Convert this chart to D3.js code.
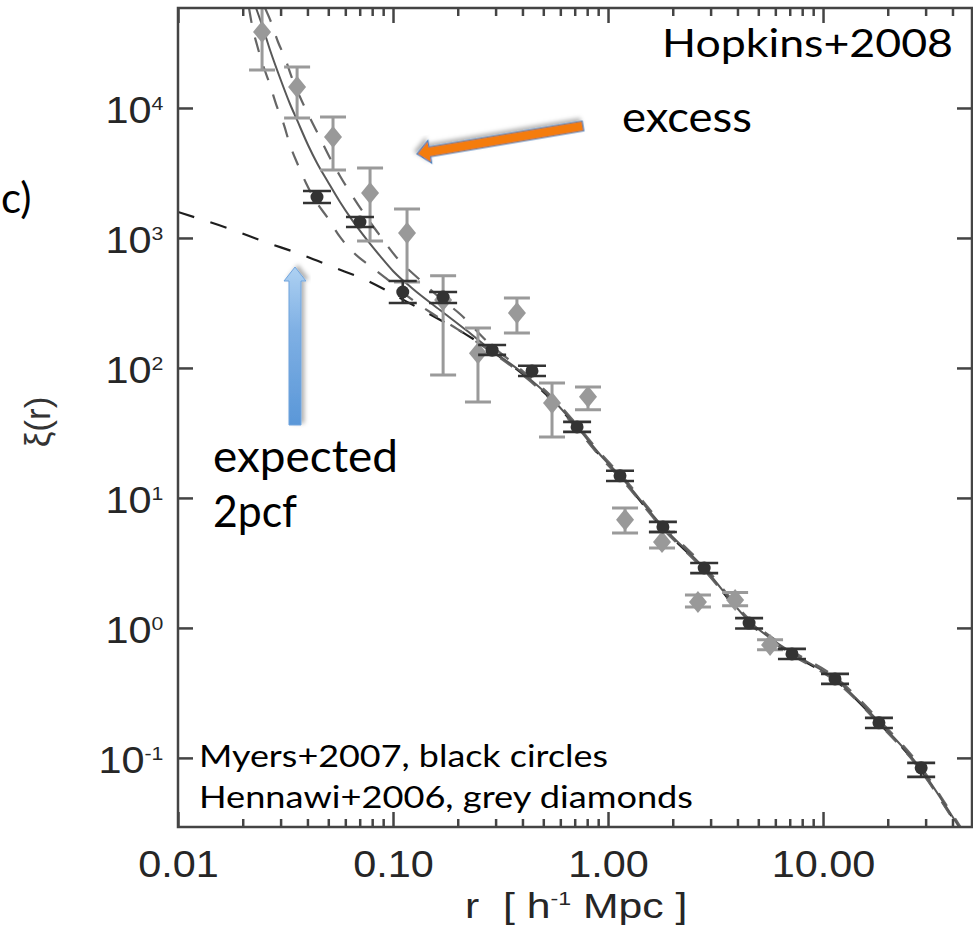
<!DOCTYPE html>
<html>
<head>
<meta charset="utf-8">
<script src="https://cdn.jsdelivr.net/npm/d3@7"></script>
<style>
  body { margin: 0; background: #fff; }
  svg { display: block; }
</style>
</head>
<body>
<div id="chart"></div>
<script>
// Values (r in h^-1 Mpc, xi dimensionless)

// Myers+2007, black circles
const blackR  = [0.0443, 0.0702, 0.111, 0.171, 0.289, 0.443, 0.718, 1.137, 1.80, 2.80, 4.53, 7.17, 11.37, 18.2, 28.6];
const blackXi = [2065, 1327, 384, 351, 137, 94.9, 35.2, 14.8, 5.98, 2.89, 1.09, 0.631, 0.405, 0.186, 0.0838];
const blackLo = [1858, 1215, 316, 316, 126, 86.8, 32.2, 13.5, 5.47, 2.64, 0.99, 0.577, 0.371, 0.170, 0.0714];
const blackHi = [2299, 1450, 467, 384, 150, 104, 38.5, 16.2, 6.54, 3.16, 1.19, 0.690, 0.443, 0.203, 0.0915];

// Hennawi+2006, grey diamonds
const greyR  = [0.0246, 0.0358, 0.0526, 0.0782, 0.1162, 0.171, 0.2484, 0.377, 0.549, 0.807, 1.20, 1.783, 2.62, 3.90, 5.67];
const greyXi = [38450, 14510, 5984, 2218, 1093, 333, 130, 265, 53.8, 59.9, 6.78, 4.59, 1.585, 1.64, 0.74];
const greyLo = [19580, 8380, 3333, 949, 459, 88.3, 54.7, 186, 29.4, 47.6, 5.38, 4.12, 1.45, 1.48, 0.68];
const greyHi = [79400, 20650, 8530, 3455, 1671, 511, 203, 345, 76.7, 71.5, 8.38, 5.48, 1.79, 1.87, 0.81];

// model curve (solid)
const modelR  = [0.02306, 0.02459, 0.02679, 0.02982, 0.03319, 0.03577, 0.04024, 0.04430, 0.04985, 0.05668, 0.06446, 0.07569, 0.08700, 0.1, 0.1239, 0.1654, 0.2209, 0.2736, 0.3898, 0.5548, 0.7174, 0.9478, 1.137, 1.802, 2.796, 4.527, 7.174, 11.37, 18.22, 28.27, 38.97, 42.92];
const modelXi = [58770, 43500, 27930, 17010, 10730, 8086, 5193, 3775, 2697, 1892, 1376, 965, 727, 557, 405, 279, 193, 145, 94.8, 56.7, 35.2, 20.3, 14.8, 5.98, 2.89, 1.13, 0.642, 0.405, 0.189, 0.0838, 0.0378, 0.0294];

// upper and lower dashed envelopes (grey)
const upperR  = [0.02539, 0.02708, 0.02919, 0.03146, 0.03390, 0.03694, 0.03981, 0.04337, 0.04674, 0.05093, 0.05668, 0.06516, 0.07409, 0.08515, 0.1044, 0.1336, 0.1654, 0.2049, 0.2736, 0.3898, 0.5548, 0.7174, 0.9478, 1.137, 1.802, 2.796, 4.527, 7.174, 11.37, 18.22, 28.27, 38.97, 43.6];
const upperXi = [58770, 45860, 32190, 24240, 17010, 12150, 9316, 7019, 5476, 4125, 3000, 2068, 1503, 1093, 702, 475, 345, 260, 160, 98.5, 58.8, 36.5, 21.0, 15.3, 6.20, 3.0, 1.17, 0.665, 0.42, 0.196, 0.0868, 0.0392, 0.0294];
const lowerR  = [0.02139, 0.02209, 0.02331, 0.02485, 0.02679, 0.02888, 0.03079, 0.03319, 0.03615, 0.03938, 0.04337, 0.04932, 0.05668, 0.06658, 0.07816, 0.09478, 0.1200, 0.1535, 0.1984, 0.2736, 0.3898, 0.5548, 0.7174, 0.9478, 1.137, 1.802, 2.796, 4.527, 7.174, 11.37, 18.22, 28.27, 38.97, 42.3];
const lowerXi = [58770, 43500, 30510, 21420, 15030, 10180, 7803, 5193, 3644, 2649, 1960, 1450, 1018, 753, 609, 475, 345, 260, 200, 140, 91.5, 54.7, 34.0, 19.6, 14.3, 5.77, 2.79, 1.09, 0.62, 0.391, 0.183, 0.0809, 0.0365, 0.0294];

// expected 2pcf (black dashed)
const expectedR  = [0.01, 0.01266, 0.01745, 0.02539, 0.03694, 0.05259, 0.07816, 0.1078, 0.1535, 0.2209, 0.2736, 0.3898, 0.5548, 0.7174, 0.9478, 1.137, 1.802, 2.796, 4.527, 7.174, 11.37, 18.22, 28.27, 38.97, 42.6];
const expectedXi = [1585, 1400, 1173, 931, 753, 598, 459, 345, 251, 179, 142.5, 93.2, 55.5, 34.5, 19.9, 14.5, 5.85, 2.83, 1.10, 0.63, 0.397, 0.185, 0.0820, 0.0370, 0.0294];

// axes
const xDomain = [0.01, 49.3];
const yDomain = [0.0294, 58770];
const xTicks = [0.01, 0.1, 1, 10];
const xTickLabels = ['0.01', '0.10', '1.00', '10.00'];
const yTicks = [0.1, 1, 10, 100, 1000, 10000];
const yTickExponents = ['-1', '0', '1', '2', '3', '4'];

// arrow annotations, [r, xi] of tail and tip
const excessArrow = {tail: [0.765, 7271], tip: [0.1293, 4429]};
const expectedArrow = {tail: [0.035, 36.4], tip: [0.035, 598]};

function drawChart() {
    const width = 973;
    const height = 929;
    const margin = {top: 8, right: 1, bottom: 102, left: 178};
    const cWidth = width - margin.left - margin.right;
    const cHeight = height - margin.top - margin.bottom;
    const stretch = 'scale(1.12,1)';

    const svg = d3.select('#chart').append('svg')
        .attr('width', width)
        .attr('height', height);

    const defs = svg.append('defs');
    defs.append('clipPath').attr('id', 'plotClip')
        .append('rect').attr('width', cWidth).attr('height', cHeight);

    const shadow = defs.append('filter').attr('id', 'shadow')
        .attr('x', '-20%').attr('y', '-20%').attr('width', '140%').attr('height', '140%');
    shadow.append('feDropShadow')
        .attr('dx', 2).attr('dy', 3).attr('stdDeviation', 2)
        .attr('flood-color', '#000').attr('flood-opacity', 0.3);

    const blueGrad = defs.append('linearGradient').attr('id', 'blueGrad')
        .attr('x1', 0).attr('y1', 0).attr('x2', 1).attr('y2', 0);
    blueGrad.append('stop').attr('offset', 0).attr('stop-color', '#5a97d8');
    blueGrad.append('stop').attr('offset', 0.6).attr('stop-color', '#7fb0e4');
    blueGrad.append('stop').attr('offset', 1).attr('stop-color', '#aed1f2');

    const g = svg.append('g').attr('transform', `translate(${margin.left},${margin.top})`);

    const x = d3.scaleLog().domain(xDomain).range([0, cWidth]);
    const y = d3.scaleLog().domain(yDomain).range([cHeight, 0]);

    const line = d3.line()
        .curve(d3.curveMonotoneX)
        .x(d => x(d[0]))
        .y(d => y(d[1]));

    const plot = g.append('g').attr('clip-path', 'url(#plotClip)');

    // Curves
    plot.append('path')
        .attr('d', line(d3.zip(expectedR, expectedXi)))
        .attr('fill', 'none')
        .attr('stroke', '#1e1e1e')
        .attr('stroke-width', 2.2)
        .attr('stroke-dasharray', '17,17');

    [[upperR, upperXi], [lowerR, lowerXi]].forEach(s => {
        plot.append('path')
            .attr('d', line(d3.zip(s[0], s[1])))
            .attr('fill', 'none')
            .attr('stroke', '#666')
            .attr('stroke-width', 2.2)
            .attr('stroke-dasharray', '15,15');
    });

    plot.append('path')
        .attr('d', line(d3.zip(modelR, modelXi)))
        .attr('fill', 'none')
        .attr('stroke', '#585858')
        .attr('stroke-width', 2);

    // Grey diamonds with error bars
    const grey = d3.range(greyR.length).map(i => ({r: greyR[i], xi: greyXi[i], lo: greyLo[i], hi: greyHi[i]}));
    const greyPts = plot.selectAll('.grey').data(grey).enter().append('g').attr('class', 'grey');
    greyPts.append('path')
        .attr('d', d => {
            let cx = x(d.r);
            return `M${cx},${y(d.hi)}V${y(d.lo)}M${cx - 13},${y(d.hi)}h26M${cx - 13},${y(d.lo)}h26`;
        })
        .attr('stroke', '#9a9a9a')
        .attr('stroke-width', 3)
        .attr('fill', 'none');
    greyPts.append('path')
        .attr('d', d => {
            let cx = x(d.r), cy = y(d.xi);
            return `M${cx},${cy - 11}L${cx + 9},${cy}L${cx},${cy + 11}L${cx - 9},${cy}Z`;
        })
        .attr('fill', '#999');

    // Black circles with error bars
    const black = d3.range(blackR.length).map(i => ({r: blackR[i], xi: blackXi[i], lo: blackLo[i], hi: blackHi[i]}));
    const blackPts = plot.selectAll('.black').data(black).enter().append('g').attr('class', 'black');
    blackPts.append('path')
        .attr('d', d => {
            let cx = x(d.r);
            return `M${cx},${y(d.hi)}V${y(d.lo)}M${cx - 14},${y(d.hi)}h28M${cx - 14},${y(d.lo)}h28`;
        })
        .attr('stroke', '#333')
        .attr('stroke-width', 2.6)
        .attr('fill', 'none');
    blackPts.append('circle')
        .attr('cx', d => x(d.r))
        .attr('cy', d => y(d.xi))
        .attr('r', 6.5)
        .attr('fill', '#333');

    // Axes, ticks pointing inward
    const isMajor = d => Math.abs(Math.log10(d) - Math.round(Math.log10(d))) < 1e-6;
    const minorX = x.ticks().filter(d => !isMajor(d));

    function styleAxis(sel) {
        sel.select('.domain').remove();
        sel.selectAll('.tick line').attr('stroke', '#444').attr('stroke-width', 2.5);
    }

    const xBottom = g.append('g')
        .attr('transform', `translate(0,${cHeight})`)
        .call(d3.axisBottom(x).tickValues(xTicks).tickSize(-15).tickFormat((d, i) => xTickLabels[i]))
        .call(styleAxis);
    xBottom.selectAll('.tick text')
        .attr('y', 50).attr('dy', 0)
        .attr('transform', stretch)
        .attr('font-family', 'Liberation Sans, Arial, sans-serif')
        .attr('font-size', 37)
        .attr('fill', '#262626');

    g.append('g')
        .attr('transform', `translate(0,${cHeight})`)
        .call(d3.axisBottom(x).tickValues(minorX).tickSize(-8).tickFormat(''))
        .call(styleAxis);
    g.append('g')
        .call(d3.axisTop(x).tickValues(xTicks).tickSize(-15).tickFormat(''))
        .call(styleAxis);
    g.append('g')
        .call(d3.axisTop(x).tickValues(minorX).tickSize(-8).tickFormat(''))
        .call(styleAxis);
    g.append('g')
        .attr('transform', `translate(${cWidth},0)`)
        .call(d3.axisRight(y).tickValues(yTicks).tickSize(-15).tickFormat(''))
        .call(styleAxis);

    const yLeft = g.append('g')
        .call(d3.axisLeft(y).tickValues(yTicks).tickSize(-15).tickFormat(''))
        .call(styleAxis);
    yLeft.selectAll('.tick text').each(function(d, i) {
        let t = d3.select(this);
        t.attr('x', -13).attr('y', 15).attr('dy', 0)
            .attr('transform', stretch)
            .attr('text-anchor', 'end')
            .attr('font-family', 'Liberation Sans, Arial, sans-serif')
            .attr('font-size', 37)
            .attr('fill', '#262626');
        t.append('tspan').text('10');
        t.append('tspan').attr('dy', -13).attr('font-size', 19).text(yTickExponents[i]);
    });

    // Frame
    g.append('rect')
        .attr('width', cWidth)
        .attr('height', cHeight)
        .attr('fill', 'none')
        .attr('stroke', '#444')
        .attr('stroke-width', 2.5);

    // Axis titles
    const xTitle = svg.append('text')
        .attr('transform', 'translate(465,918) scale(1.22,1)')
        .attr('font-family', 'Liberation Sans, Arial, sans-serif')
        .attr('font-size', 35)
        .attr('fill', '#262626')
        .style('white-space', 'pre');
    xTitle.append('tspan').text('r  [ h');
    xTitle.append('tspan').attr('dy', -13).attr('font-size', 19).text('-1');
    xTitle.append('tspan').attr('dy', 13).text(' Mpc ]');

    svg.append('text')
        .attr('transform', 'translate(50,422) rotate(-90)')
        .attr('text-anchor', 'middle')
        .attr('font-family', 'Liberation Sans, Arial, sans-serif')
        .attr('font-size', 35)
        .attr('fill', '#333')
        .text('\u03BE(r)');

    // Arrows
    function arrow(a, shaftW, headW, headL) {
        let x0 = x(a.tail[0]), y0 = y(a.tail[1]);
        let x1 = x(a.tip[0]), y1 = y(a.tip[1]);
        let len = Math.hypot(x1 - x0, y1 - y0);
        let ang = Math.atan2(y1 - y0, x1 - x0) * 180 / Math.PI;
        let s = shaftW / 2, h = headW / 2, b = len - headL;
        let pts = [[0, -s], [b, -s], [b, -h], [len, 0], [b, h], [b, s], [0, s]];
        return {points: pts.map(p => p.join(',')).join(' '), transform: `translate(${x0},${y0}) rotate(${ang})`};
    }

    let oa = arrow(excessArrow, 10, 23, 13);
    g.append('polygon')
        .attr('points', oa.points)
        .attr('transform', oa.transform)
        .attr('fill', '#f47b0c')
        .attr('stroke', '#4f81bd')
        .attr('stroke-width', 1.2)
        .attr('filter', 'url(#shadow)');

    let ba = arrow(expectedArrow, 12, 22, 14);
    g.append('polygon')
        .attr('points', ba.points)
        .attr('transform', ba.transform)
        .attr('fill', 'url(#blueGrad)')
        .attr('stroke', '#6fa3dc')
        .attr('stroke-width', 1)
        .attr('filter', 'url(#shadow)');

    // Annotation text
    const notes = [
        {text: 'Hopkins+2008', x: 662, y: 57, size: 39, len: 291},
        {text: 'excess', x: 622, y: 132, size: 43, len: 130},
        {text: 'expected', x: 213, y: 472, size: 44, len: 185},
        {text: '2pcf', x: 213, y: 527, size: 44, len: 84},
        {text: 'Myers+2007, black circles', x: 199, y: 767, size: 30, len: 409},
        {text: 'Hennawi+2006, grey diamonds', x: 199, y: 808, size: 30, len: 494}
    ];
    svg.selectAll('.note').data(notes).enter().append('text')
        .attr('class', 'note')
        .attr('x', d => d.x)
        .attr('y', d => d.y)
        .attr('font-family', 'Lato, sans-serif')
        .attr('font-size', d => d.size)
        .attr('textLength', d => d.len)
        .attr('lengthAdjust', 'spacingAndGlyphs')
        .attr('fill', '#000')
        .text(d => d.text);

    // label continuing from the left edge
    svg.append('text')
        .attr('x', 1).attr('y', 213)
        .attr('font-family', 'Lato, sans-serif')
        .attr('font-size', 42)
        .attr('fill', '#000')
        .text('c)');
}

drawChart();
</script>
</body>
</html>
